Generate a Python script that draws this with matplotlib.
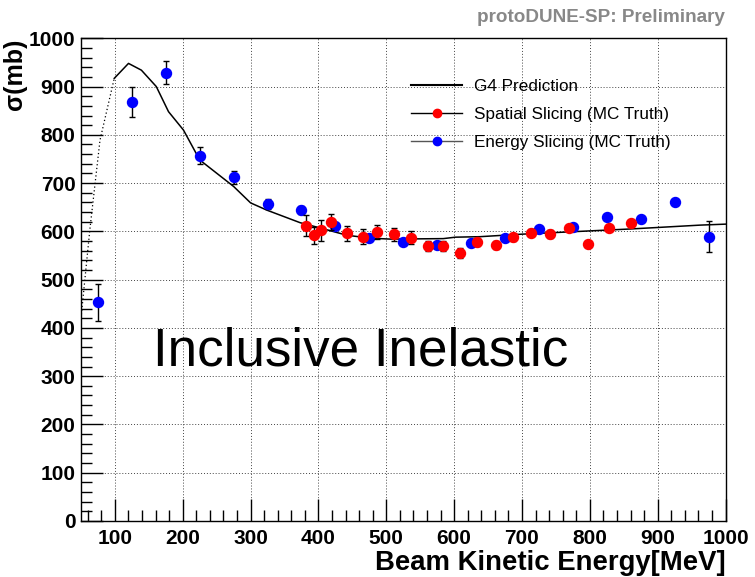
import matplotlib
matplotlib.use("Agg")
import matplotlib.pyplot as plt
from matplotlib.lines import Line2D
from matplotlib.ticker import MultipleLocator

plt.rcParams['font.family'] = ['Liberation Sans', 'DejaVu Sans']

# G4 prediction
g4_x = [50, 63, 78, 99, 120, 139, 161, 179, 201, 225, 275, 300, 324, 373, 400, 442,
        476, 506, 584, 602, 638, 697, 800, 860, 899, 963, 1000]
g4_y = [420, 603, 789, 917, 948, 934, 900, 848, 810, 748, 693, 659, 644, 618, 608, 592,
        586, 584, 585, 588, 589, 594, 601, 605, 608, 613, 615]
g4_split = 3  # index where the solid part starts

# Energy slicing (MC truth)
energy_x = [75, 125, 175, 225, 275, 325, 375, 425, 475, 525, 575, 625, 675, 725, 775,
            825, 875, 925, 975]
energy_y = [453, 868, 929, 757, 712, 657, 644, 612, 586, 577, 572, 576, 587, 604, 609,
            630, 625, 660, 589]
energy_err = [38, 32, 23, 17, 13, 10, 8, 6, 5, 5, 4, 4, 4, 4, 4, 4, 4, 4, 32]

# Spatial slicing (MC truth)
spatial_x = [381, 393, 404, 419, 442, 465, 487, 511, 537, 561, 584, 608, 634, 661, 687,
             713, 741, 769, 798, 828, 861]
spatial_y = [612, 592, 602, 619, 596, 589, 599, 594, 587, 570, 570, 555, 578, 572, 588,
             597, 595, 606, 573, 608, 618]
spatial_err = [21, 18, 21, 17, 16, 15, 15, 13, 13, 11, 11, 11, 8, 8, 7, 7, 8, 6, 5, 5, 5]

fig = plt.figure(figsize=(7.55, 5.77), dpi=100)
ax = fig.add_axes([81 / 755, 1 - 521 / 577, (725.5 - 81) / 755, (521 - 38.3) / 577])

ax.set_xlim(50, 1000)
ax.set_ylim(0, 1000)

ax.grid(True, which='major', linestyle=(0, (1, 2)), color='#444444', linewidth=0.7)
ax.set_axisbelow(True)

ax.plot(g4_x[:g4_split + 1], g4_y[:g4_split + 1], color='black', lw=0.9, ls=(0, (1, 2)))
ax.plot(g4_x[g4_split:], g4_y[g4_split:], color='black', lw=1.1)

ax.errorbar(energy_x, energy_y, yerr=energy_err, fmt='o', color='#0000ff', ms=7.2,
            ecolor='black', elinewidth=1, capsize=2.5, mec='#0000ff', zorder=3)
ax.errorbar(spatial_x, spatial_y, yerr=spatial_err, fmt='o', color='#ff0000', ms=7.2,
            ecolor='black', elinewidth=1, capsize=2.5, mec='#ff0000', zorder=4)

ax.xaxis.set_major_locator(MultipleLocator(100))
ax.xaxis.set_minor_locator(MultipleLocator(20))
ax.yaxis.set_major_locator(MultipleLocator(100))
ax.yaxis.set_minor_locator(MultipleLocator(20))
ax.tick_params(which='both', direction='in', top=False, right=False, width=1)
ax.tick_params(which='major', length=16, labelsize=15)
ax.tick_params(which='minor', length=8)
for lab in ax.get_xticklabels() + ax.get_yticklabels():
    lab.set_fontweight('bold')
ax.tick_params(axis='x', pad=6)
ax.tick_params(axis='y', pad=4)
for s in ax.spines.values():
    s.set_linewidth(1.0)

ax.set_xlabel('Beam Kinetic Energy[MeV]', fontsize=19.8, fontweight='bold', loc='right',
              labelpad=1)
ax.set_ylabel('σ(mb)', fontsize=18, fontweight='bold', loc='top', labelpad=1)

ax.text(155.6, 323, 'Inclusive Inelastic', fontsize=38.2, ha='left', va='baseline')

fig.text(725 / 755, 1 - 18 / 577, 'protoDUNE-SP: Preliminary', color='#888888',
         fontsize=13.6, fontweight='bold', ha='right', va='center')

handles = [
    Line2D([], [], color='black', lw=1.5),
    Line2D([], [], color='black', lw=1, marker='o', mfc='#ff0000', mec='#ff0000', ms=6),
    Line2D([], [], color='#555555', lw=1, marker='o', mfc='#0000ff', mec='#0000ff', ms=6),
]
labels = ['G4 Prediction', 'Spatial Slicing (MC Truth)', 'Energy Slicing (MC Truth)']
ax.legend(handles, labels, loc='upper left', bbox_to_anchor=(0.512, 0.915), frameon=False,
          fontsize=12.3, handlelength=3.0, handletextpad=0.7, labelspacing=0.75, borderpad=0,
          borderaxespad=0)

fig.savefig('out.png', dpi=100)
